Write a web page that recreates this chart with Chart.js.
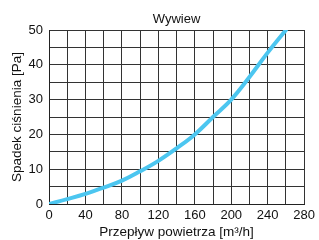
<!DOCTYPE html>
<html>
<head>
<meta charset="utf-8">
<script src="https://cdn.jsdelivr.net/npm/chart.js@4/dist/chart.umd.min.js"></script>
<style>
  html, body { margin: 0; padding: 0; background: #fff; }
  canvas { display: block; }
</style>
</head>
<body>
<canvas id="wywiewChart" width="319" height="240"></canvas>
<script>
// dane
var flow = [0, 20, 40, 60, 80, 100, 120, 140, 160, 180, 200, 220, 240, 260];
var pressure = [0, 1.4, 2.9, 4.7, 6.7, 9.4, 12.4, 16, 20, 25, 30, 36.5, 43.5, 50];
var xTicks = [0, 40, 80, 120, 160, 200, 240, 280];
var yTicks = [0, 10, 20, 30, 40, 50];
var chartTitle = 'Wywiew';
var xTitle = 'Przepływ powietrza [m³/h]';
var yTitle = 'Spadek ciśnienia [Pa]';

var fontFamily = '"Liberation Sans", Arial, sans-serif';

// tytuł wycentrowany nad obszarem wykresu
var titlePlugin = {
    id: 'centerTitle',
    afterDraw: function (chart) {
        var ctx = chart.ctx;
        var area = chart.chartArea;
        ctx.save();
        ctx.font = '13px ' + fontFamily;
        ctx.fillStyle = '#111';
        ctx.textAlign = 'center';
        ctx.textBaseline = 'alphabetic';
        ctx.fillText(chartTitle, (area.left + area.right) / 2, 22.5);
        ctx.restore();
    }
};

var points = flow.map(function (x, i) { return { x: x, y: pressure[i] }; });

var ctx = document.getElementById('wywiewChart').getContext('2d');
var chart = new Chart(ctx, {
    type: 'line',
    data: {
        datasets: [{
            data: points,
            borderColor: '#4CC6F0',
            borderWidth: 4,
            borderCapStyle: 'round',
            pointRadius: 0,
            tension: 0.4,
            fill: false
        }]
    },
    options: {
        responsive: false,
        animation: false,
        layout: { padding: { top: 30, right: 13, left: 0, bottom: 0 } },
        plugins: {
            legend: { display: false },
            title: { display: false },
            tooltip: { enabled: false }
        },
        scales: {
            x: {
                type: 'linear',
                min: 0,
                max: 280,
                afterFit: function (scale) { scale.height = 36; },
                grid: { color: '#333', lineWidth: 1, drawTicks: false },
                border: { color: '#222', width: 1 },
                ticks: {
                    stepSize: 20,
                    autoSkip: false,
                    maxRotation: 0,
                    padding: 4,
                    color: '#111',
                    font: { family: fontFamily, size: 13 },
                    callback: function (v) { return xTicks.indexOf(v) >= 0 ? String(v) : ''; }
                },
                title: {
                    display: true,
                    text: xTitle,
                    color: '#111',
                    font: { family: fontFamily, size: 13.5 },
                    padding: { top: 0, bottom: 0 }
                }
            },
            y: {
                type: 'linear',
                min: 0,
                max: 50,
                afterFit: function (scale) { scale.width = 49; },
                grid: { color: '#333', lineWidth: 1, drawTicks: false },
                border: { color: '#222', width: 1 },
                ticks: {
                    stepSize: 5,
                    autoSkip: false,
                    padding: 6,
                    color: '#111',
                    font: { family: fontFamily, size: 13 },
                    callback: function (v) { return yTicks.indexOf(v) >= 0 ? String(v) : ''; }
                },
                title: {
                    display: true,
                    text: yTitle,
                    color: '#111',
                    font: { family: fontFamily, size: 13.5 },
                    padding: { top: 9, bottom: 0 }
                }
            }
        }
    },
    plugins: [titlePlugin]
});
</script>
</body>
</html>
